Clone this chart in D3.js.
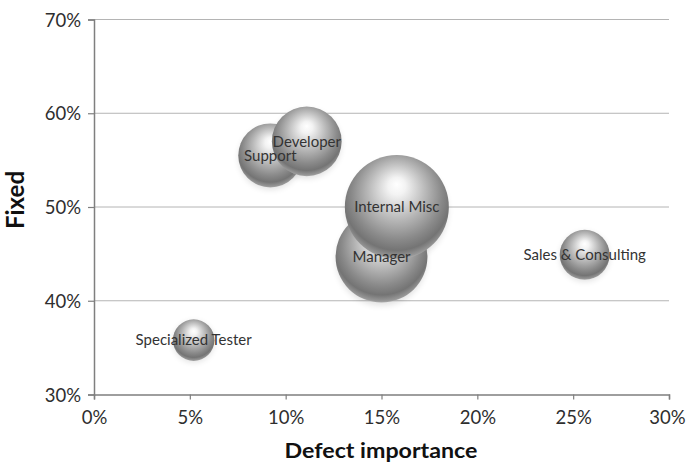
<!DOCTYPE html>
<html>
<head>
<meta charset="utf-8">
<script src="https://cdn.jsdelivr.net/npm/d3@7"></script>
<style>
  html, body { margin: 0; padding: 0; background: #fff; }
  svg { display: block; }
</style>
</head>
<body>
<svg id="chart" width="686" height="462"></svg>
<script>
// Bubble chart: share of defects fixed vs. defect importance, per reporter group
const groups     = ["Specialized Tester", "Support", "Developer", "Manager", "Internal Misc", "Sales & Consulting"];
const importance = [0.052, 0.092, 0.111, 0.150, 0.158, 0.256];
const fixedShare = [0.358, 0.555, 0.570, 0.447, 0.500, 0.449];
const bubbleSize = [16, 38, 45, 78, 100, 23];
const xTicks = [0, 0.05, 0.10, 0.15, 0.20, 0.25, 0.30];
const yTicks = [0.30, 0.40, 0.50, 0.60, 0.70];

const svg = d3.select("#chart");
const margin = { left: 94, right: 17, top: 19.5, bottom: 67.5 };
const W = 686, H = 462;
const font = "Lato, 'Open Sans', sans-serif";

const x = d3.scaleLinear().domain([0, 0.30]).range([margin.left, W - margin.right]);
const y = d3.scaleLinear().domain([0.30, 0.70]).range([H - margin.bottom, margin.top]);
const r = d3.scaleSqrt().domain([0, d3.max(bubbleSize)]).range([0, 52]);

const pct = d3.format(".0%");

// sphere shading
const defs = svg.append("defs");
const grad = defs.append("radialGradient").attr("id", "sphere")
  .attr("cx", "50%").attr("cy", "42%").attr("r", "60%")
  .attr("fx", "50%").attr("fy", "28%");
[
  [0, "#ffffff"], [0.14, "#f3f3f3"], [0.45, "#bababa"],
  [0.72, "#8a8a8a"], [0.86, "#747474"], [0.95, "#979797"], [1, "#c8c8c8"]
].forEach(([o, c]) => grad.append("stop").attr("offset", o).attr("stop-color", c));

const shadow = defs.append("filter").attr("id", "shadow")
  .attr("x", "-30%").attr("y", "-30%").attr("width", "160%").attr("height", "160%");
shadow.append("feGaussianBlur").attr("stdDeviation", 3);

// horizontal gridlines
svg.append("g").selectAll("line").data(yTicks.slice(1)).join("line")
  .attr("x1", x(0)).attr("x2", x(0.30))
  .attr("y1", d => y(d)).attr("y2", d => y(d))
  .attr("stroke", "#b4b4b4").attr("stroke-width", 1);

// axes
const yAxis = svg.append("g").attr("transform", `translate(${x(0)},0)`)
  .call(d3.axisLeft(y).tickValues(yTicks).tickFormat(pct).tickSize(6).tickPadding(7));
const xAxis = svg.append("g").attr("transform", `translate(0,${y(0.30)})`)
  .call(d3.axisBottom(x).tickValues(xTicks).tickFormat(pct).tickSize(5).tickPadding(11));

[yAxis, xAxis].forEach(g => {
  g.select(".domain").attr("stroke", "#7f7f7f").attr("stroke-width", 1.5);
  g.selectAll(".tick line").attr("stroke", "#7f7f7f").attr("stroke-width", 1.2);
  g.selectAll(".tick text")
    .attr("font-family", font)
    .attr("font-size", 18.5).attr("fill", "#2e2e2e");
});
yAxis.selectAll(".tick text").attr("dy", "0.36em");
xAxis.selectAll(".tick text").attr("dy", "0.72em");
// keep the last x label inside the canvas edge
xAxis.selectAll(".tick text").filter(d => d === 0.30)
  .attr("text-anchor", "end").attr("x", W - x(0.30) - 1);

// bubbles, drawn in series order so later points sit on top
const data = groups.map((g, i) => ({
  name: g, xv: importance[i], yv: fixedShare[i], size: bubbleSize[i]
}));

const bubbles = svg.append("g");
bubbles.selectAll("ellipse.shadow").data(data).join("ellipse")
  .attr("class", "shadow")
  .attr("cx", d => x(d.xv))
  .attr("cy", d => y(d.yv) + r(d.size) * 0.08)
  .attr("rx", d => r(d.size) * 0.98)
  .attr("ry", d => r(d.size) * 0.98)
  .attr("fill", "#000").attr("opacity", 0.12)
  .attr("filter", "url(#shadow)");

bubbles.selectAll("circle").data(data).join("circle")
  .attr("cx", d => x(d.xv))
  .attr("cy", d => y(d.yv))
  .attr("r", d => r(d.size))
  .attr("fill", "url(#sphere)");

// data labels
svg.append("g").selectAll("text").data(data).join("text")
  .attr("x", d => x(d.xv))
  .attr("y", d => y(d.yv))
  .attr("text-anchor", "middle")
  .attr("dy", "0.35em")
  .attr("font-family", font)
  .attr("font-size", 15)
  .attr("fill", "#333")
  .text(d => d.name);

// axis titles
svg.append("text")
  .attr("x", 381)
  .attr("y", 458)
  .attr("text-anchor", "middle")
  .attr("font-family", font)
  .attr("font-weight", "bold")
  .attr("font-size", 20)
  .attr("textLength", 193)
  .attr("lengthAdjust", "spacingAndGlyphs")
  .attr("fill", "#111")
  .text("Defect importance");

svg.append("text")
  .attr("transform", "translate(24,200) rotate(-90)")
  .attr("text-anchor", "middle")
  .attr("font-family", font)
  .attr("font-weight", "bold")
  .attr("font-size", 24)
  .attr("fill", "#111")
  .text("Fixed");
</script>
</body>
</html>
